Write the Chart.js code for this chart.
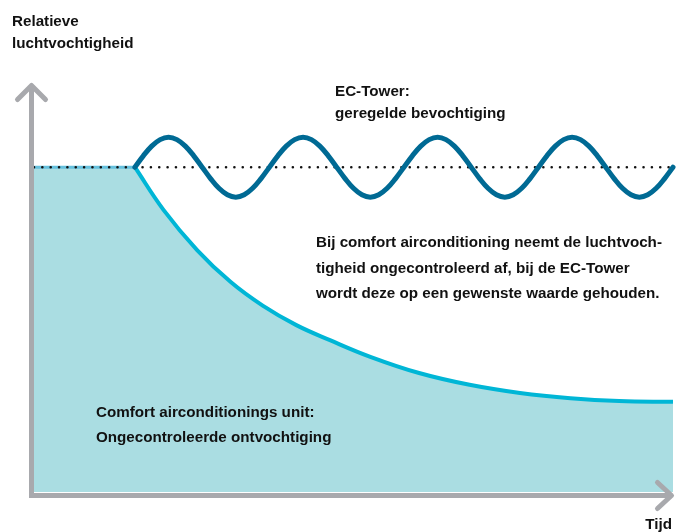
<!DOCTYPE html>
<html>
<head>
<meta charset="utf-8">
<script src="https://cdn.jsdelivr.net/npm/chart.js@4/dist/chart.umd.min.js"></script>
<style>
  html, body { margin: 0; padding: 0; background: #ffffff; }
  #wrap { position: relative; width: 688px; height: 532px; overflow: hidden; }
  canvas { position: absolute; left: 0; top: 0; }
  .lbl { position: absolute; font-family: "Liberation Sans", Arial, sans-serif; font-weight: 700;
         font-size: 15.2px; color: #111111; white-space: nowrap; }
</style>
</head>
<body>
<div id="wrap">
  <canvas id="c" width="688" height="532"></canvas>
  <div class="lbl" id="yTitle" style="left:12px; top:9.7px; line-height:22px;"></div>
  <div class="lbl" id="ecNote" style="left:335px; top:79.7px; line-height:22px;"></div>
  <div class="lbl" id="mainNote" style="left:316px; top:229px; line-height:25.5px;"></div>
  <div class="lbl" id="comfortNote" style="left:96px; top:399.2px; line-height:25px;"></div>
  <div class="lbl" id="xTitle" style="right:16px; top:514.7px; line-height:18px;"></div>
</div>
<script>
// ---- Axis range (time units, relative humidity units) ----
const timeRange = [0, 38];
const humidityRange = [0, 100];

// ---- Set point (dotted reference line) ----
const setpointX = [0, 38];
const setpointY = [80, 80];

// ---- Comfort airconditioning: constant part before the drop ----
const comfortFlatX = [0, 6.06];
const comfortFlatY = [80, 80];

// ---- Comfort airconditioning: uncontrolled drop ----
const comfortX = [6, 7.7, 9.7, 11.7, 13.6, 15.6, 17.6, 20, 22.9, 25.9, 28.9, 31.9, 34.8, 38];
const comfortY = [80, 69.5, 59.6, 51.7, 45.9, 41.1, 37.4, 33.3, 29.3, 26.4, 24.4, 23.1, 22.4, 22.2];

// ---- EC-Tower: controlled humidity oscillating round the set point ----
const ecTowerX = [6, 6.5, 7, 7.5, 8, 8.5, 9, 9.5, 10, 10.5, 11, 11.5, 12, 12.5, 13, 13.5,
                  14, 14.5, 15, 15.5, 16, 16.5, 17, 17.5, 18, 18.5, 19, 19.5, 20, 20.5, 21, 21.5,
                  22, 22.5, 23, 23.5, 24, 24.5, 25, 25.5, 26, 26.5, 27, 27.5, 28, 28.5, 29, 29.5,
                  30, 30.5, 31, 31.5, 32, 32.5, 33, 33.5, 34, 34.5, 35, 35.5, 36, 36.5, 37, 37.5, 38];
const ecTowerY = [80, 82.8, 85.2, 86.8, 87.4, 86.8, 85.2, 82.8, 80, 77.2, 74.8, 73.2, 72.6, 73.2, 74.8, 77.2,
                  80, 82.8, 85.2, 86.8, 87.4, 86.8, 85.2, 82.8, 80, 77.2, 74.8, 73.2, 72.6, 73.2, 74.8, 77.2,
                  80, 82.8, 85.2, 86.8, 87.4, 86.8, 85.2, 82.8, 80, 77.2, 74.8, 73.2, 72.6, 73.2, 74.8, 77.2,
                  80, 82.8, 85.2, 86.8, 87.4, 86.8, 85.2, 82.8, 80, 77.2, 74.8, 73.2, 72.6, 73.2, 74.8, 77.2, 80];

// ---- Texts ----
const yAxisTitle = ["Relatieve", "luchtvochtigheid"];
const xAxisTitle = "Tijd";
const ecTowerLabel = ["EC-Tower:", "geregelde bevochtiging"];
const comfortLabel = ["Comfort airconditionings unit:", "Ongecontroleerde ontvochtiging"];
const mainNote = ["Bij comfort airconditioning neemt de luchtvoch-",
                  "tigheid ongecontroleerd af, bij de EC-Tower",
                  "wordt deze op een gewenste waarde gehouden."];

function setLines(id, lines) {
  const el = document.getElementById(id);
  lines.forEach((t, i) => {
    if (i) el.appendChild(document.createElement('br'));
    el.appendChild(document.createTextNode(t));
  });
}
setLines('yTitle', yAxisTitle);
setLines('ecNote', ecTowerLabel);
setLines('mainNote', mainNote);
setLines('comfortNote', comfortLabel);
setLines('xTitle', [xAxisTitle]);

const pts = (xs, ys) => xs.map((x, i) => ({ x: x, y: ys[i] }));

const FILL = '#aadde2';
const AXIS = '#a8a9ad';

const axesPlugin = {
  id: 'arrowAxes',
  afterDatasetsDraw(chart) {
    const ctx = chart.ctx;
    const xs = chart.scales.x, ys = chart.scales.y;
    const x0 = xs.getPixelForValue(timeRange[0]) - 2.5;
    const y0 = ys.getPixelForValue(humidityRange[0]) + 3.5;
    const yTop = ys.getPixelForValue(humidityRange[1]) - 0.5;
    const xRight = xs.getPixelForValue(timeRange[1]) - 1.5;
    ctx.save();
    ctx.strokeStyle = AXIS;
    ctx.lineWidth = 5;
    ctx.lineJoin = 'miter';
    ctx.lineCap = 'butt';
    ctx.beginPath();
    ctx.moveTo(x0, yTop);
    ctx.lineTo(x0, y0);
    ctx.lineTo(xRight, y0);
    ctx.stroke();
    ctx.lineJoin = 'round';
    ctx.lineCap = 'round';
    ctx.beginPath();
    ctx.moveTo(x0 - 14, yTop + 14);
    ctx.lineTo(x0, yTop);
    ctx.lineTo(x0 + 14, yTop + 14);
    ctx.stroke();
    ctx.beginPath();
    ctx.moveTo(xRight - 14, y0 - 13);
    ctx.lineTo(xRight, y0);
    ctx.lineTo(xRight - 14, y0 + 13);
    ctx.stroke();
    ctx.restore();
  }
};

new Chart(document.getElementById('c'), {
  type: 'line',
  data: {
    datasets: [
      {
        label: 'EC-Tower',
        data: pts(ecTowerX, ecTowerY),
        borderColor: '#006a94',
        borderWidth: 5,
        borderCapStyle: 'round',
        borderJoinStyle: 'round',
        tension: 0.4,
        fill: false,
        order: 0,
        clip: false
      },
      {
        label: 'Setpoint',
        data: pts(setpointX, setpointY),
        borderColor: '#111111',
        borderWidth: 2.6,
        borderDash: [0, 8.35],
        borderCapStyle: 'round',
        fill: false,
        order: 1,
        clip: false
      },
      {
        label: 'Comfort',
        data: pts(comfortX, comfortY),
        borderColor: '#00b6d6',
        borderWidth: 4,
        borderJoinStyle: 'round',
        tension: 0.4,
        backgroundColor: FILL,
        fill: 'origin',
        order: 2,
        clip: false
      },
      {
        label: 'Comfort flat',
        data: pts(comfortFlatX, comfortFlatY),
        borderColor: '#66c1de',
        borderWidth: 3,
        backgroundColor: FILL,
        fill: 'origin',
        order: 3,
        clip: false
      }
    ]
  },
  options: {
    responsive: false,
    devicePixelRatio: 1,
    animation: false,
    events: [],
    layout: { padding: { left: 34, right: 15, top: 86, bottom: 40 } },
    elements: { point: { radius: 0 } },
    scales: {
      x: { type: 'linear', min: timeRange[0], max: timeRange[1], display: false },
      y: { type: 'linear', min: humidityRange[0], max: humidityRange[1], display: false }
    },
    plugins: { legend: { display: false }, tooltip: { enabled: false }, title: { display: false } }
  },
  plugins: [axesPlugin]
});
</script>
</body>
</html>
